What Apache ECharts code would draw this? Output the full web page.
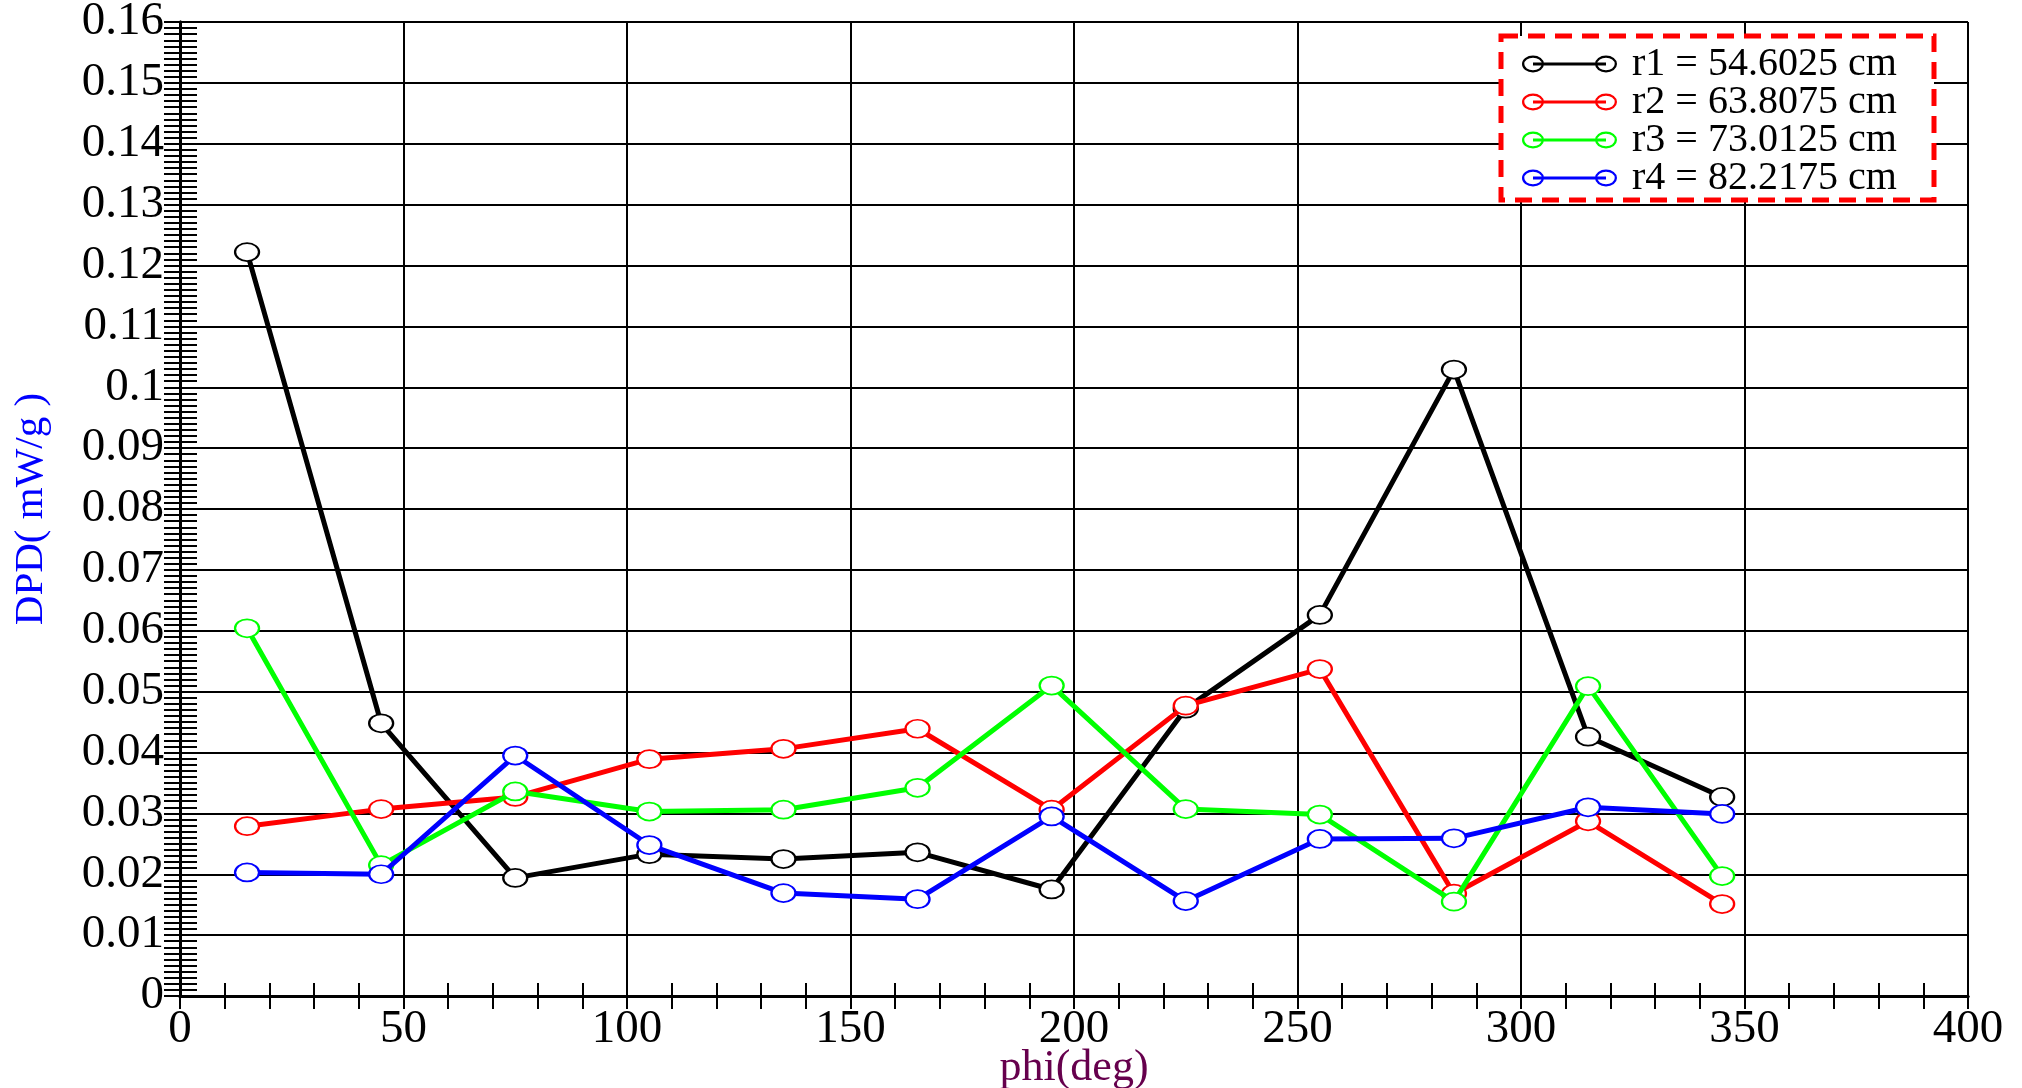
<!DOCTYPE html>
<html>
<head>
<meta charset="utf-8">
<script src="https://cdn.jsdelivr.net/npm/echarts@6/dist/echarts.min.js"></script>
<style>
html,body{margin:0;padding:0;background:#fff;}
#chart{width:2022px;height:1088px;}
</style>
</head>
<body>
<div id="chart"></div>
<script>
// ---- data ----
const phi = [15, 45, 75, 105, 135, 165, 195, 225, 255, 285, 315, 345];
const r1 = [0.1222, 0.0448, 0.0194, 0.0233, 0.0225, 0.0236, 0.0175, 0.0472, 0.0626, 0.1029, 0.0426, 0.0327];
const r2 = [0.0279, 0.0307, 0.0327, 0.0389, 0.0406, 0.0439, 0.0306, 0.0477, 0.0537, 0.0168, 0.0287, 0.0151];
const r3 = [0.0604, 0.0215, 0.0336, 0.0303, 0.0306, 0.0342, 0.0510, 0.0307, 0.0298, 0.0155, 0.0509, 0.0197];
const r4 = [0.0203, 0.0200, 0.0395, 0.0248, 0.0169, 0.0159, 0.0295, 0.0156, 0.0258, 0.0259, 0.0310, 0.0299];
const seriesNames = ['r1 = 54.6025 cm', 'r2 = 63.8075 cm', 'r3 = 73.0125 cm', 'r4 = 82.2175 cm'];
const seriesColors = ['#000000', '#ff0000', '#00ff00', '#0000ff'];
const xTicks = [0, 50, 100, 150, 200, 250, 300, 350, 400];
const yTicks = [0, 0.01, 0.02, 0.03, 0.04, 0.05, 0.06, 0.07, 0.08, 0.09, 0.1, 0.11, 0.12, 0.13, 0.14, 0.15, 0.16];
const xName = 'phi(deg)';
const yName = 'DPD( mW/g )';

const FONT = 'Liberation Serif';
const allSeries = [r1, r2, r3, r4];

const legendIcon = 'path://' +
  'M0 9 A11 8.5 0 1 1 22 9 A11 8.5 0 1 1 0 9 Z ' +
  'M2.3 9 A8.7 6.2 0 1 0 19.7 9 A8.7 6.2 0 1 0 2.3 9 Z ' +
  'M73 9 A11 8.5 0 1 1 95 9 A11 8.5 0 1 1 73 9 Z ' +
  'M75.3 9 A8.7 6.2 0 1 0 92.7 9 A8.7 6.2 0 1 0 75.3 9 Z ' +
  'M11 7.4 L84 7.4 L84 10.6 L11 10.6 Z ' +
  'M105 0 L105 0.01 L104.99 0.01 Z M105 18 L105 17.99 L104.99 17.99 Z';

const chart = echarts.init(document.getElementById('chart'));

const xMin = xTicks[0], xMax = xTicks[xTicks.length - 1], xInt = xTicks[1] - xTicks[0];
const yMin = yTicks[0], yMax = yTicks[yTicks.length - 1], yInt = 0.01;

const frameLine = { show: true, lineStyle: { color: '#000', width: 3 } };

const option = {
  backgroundColor: '#fff',
  animation: false,
  grid: { left: 180, right: 54, top: 22, bottom: 92, containLabel: false, outerBoundsMode: 'none' },
  xAxis: [
    {
      type: 'value', min: xMin, max: xMax, interval: xInt, position: 'bottom',
      name: xName, nameLocation: 'middle', nameGap: 50, nameMoveOverlap: false,
      nameTextStyle: { color: '#66004d', fontFamily: FONT, fontSize: 44, verticalAlign: 'top' },
      axisLine: frameLine,
      axisTick: { show: true, inside: true, length: 13, lineStyle: { color: '#000', width: 2 } },
      minorTick: { show: true, splitNumber: 5, length: 13, lineStyle: { color: '#000', width: 2 } },
      axisLabel: { color: '#000', fontFamily: FONT, fontSize: 47, margin: 10 },
      splitLine: { show: true, lineStyle: { color: '#000', width: 2 } }
    },
    {
      type: 'value', min: xMin, max: xMax, interval: xInt, position: 'top',
      axisLine: frameLine,
      axisTick: { show: true, inside: true, length: 13, lineStyle: { color: '#000', width: 2 } },
      minorTick: { show: true, splitNumber: 5, length: 13, lineStyle: { color: '#000', width: 2 } },
      axisLabel: { show: false },
      splitLine: { show: false }
    }
  ],
  yAxis: [
    {
      type: 'value', min: yMin, max: yMax, interval: yInt, position: 'left',
      name: yName, nameLocation: 'middle', nameGap: 128, nameRotate: 90, nameMoveOverlap: false,
      nameTextStyle: { color: '#0000ff', fontFamily: FONT, fontSize: 41 },
      axisLine: frameLine,
      axisTick: { show: true, inside: true, length: 17, lineStyle: { color: '#000', width: 2 } },
      minorTick: { show: true, splitNumber: 10, length: 17, lineStyle: { color: '#000', width: 2 } },
      axisLabel: {
        color: '#000', fontFamily: FONT, fontSize: 47, margin: 16,
        formatter: v => String(+v.toFixed(2))
      },
      splitLine: { show: true, lineStyle: { color: '#000', width: 2 } }
    },
    {
      type: 'value', min: yMin, max: yMax, interval: yInt, position: 'right',
      axisLine: frameLine,
      axisTick: { show: true, inside: true, length: 16, lineStyle: { color: '#000', width: 2 } },
      minorTick: { show: true, splitNumber: 10, length: 16, lineStyle: { color: '#000', width: 2 } },
      axisLabel: { show: false },
      splitLine: { show: false }
    }
  ],
  legend: {
    orient: 'vertical', left: 1522, top: 44, z: 10,
    padding: 0, itemGap: -2, itemWidth: 105, itemHeight: 18,
    selectedMode: false,
    icon: legendIcon,
    itemStyle: { borderWidth: 0 },
    textStyle: { color: '#000', fontFamily: FONT, fontSize: 40 },
    data: seriesNames.map((n, i) => ({ name: n, icon: legendIcon, itemStyle: { color: seriesColors[i], borderWidth: 0 } }))
  },
  graphic: [
    {
      type: 'rect', z: 5, silent: true,
      shape: { x: 1501, y: 36, width: 433, height: 164 },
      style: { fill: '#fff', stroke: '#ff0000', lineWidth: 5, lineDash: [17, 10] }
    }
  ],
  series: allSeries.map((vals, i) => ({
    type: 'line',
    name: seriesNames[i],
    xAxisIndex: 0, yAxisIndex: 0,
    data: phi.map((x, j) => [x, vals[j]]),
    symbol: 'emptyCircle',
    symbolSize: [24, 18],
    color: seriesColors[i],
    lineStyle: { color: seriesColors[i], width: 5 },
    itemStyle: { color: seriesColors[i], borderColor: seriesColors[i], borderWidth: 2.2 },
    z: 2 + i
  }))
};

chart.setOption(option);
</script>
</body>
</html>
